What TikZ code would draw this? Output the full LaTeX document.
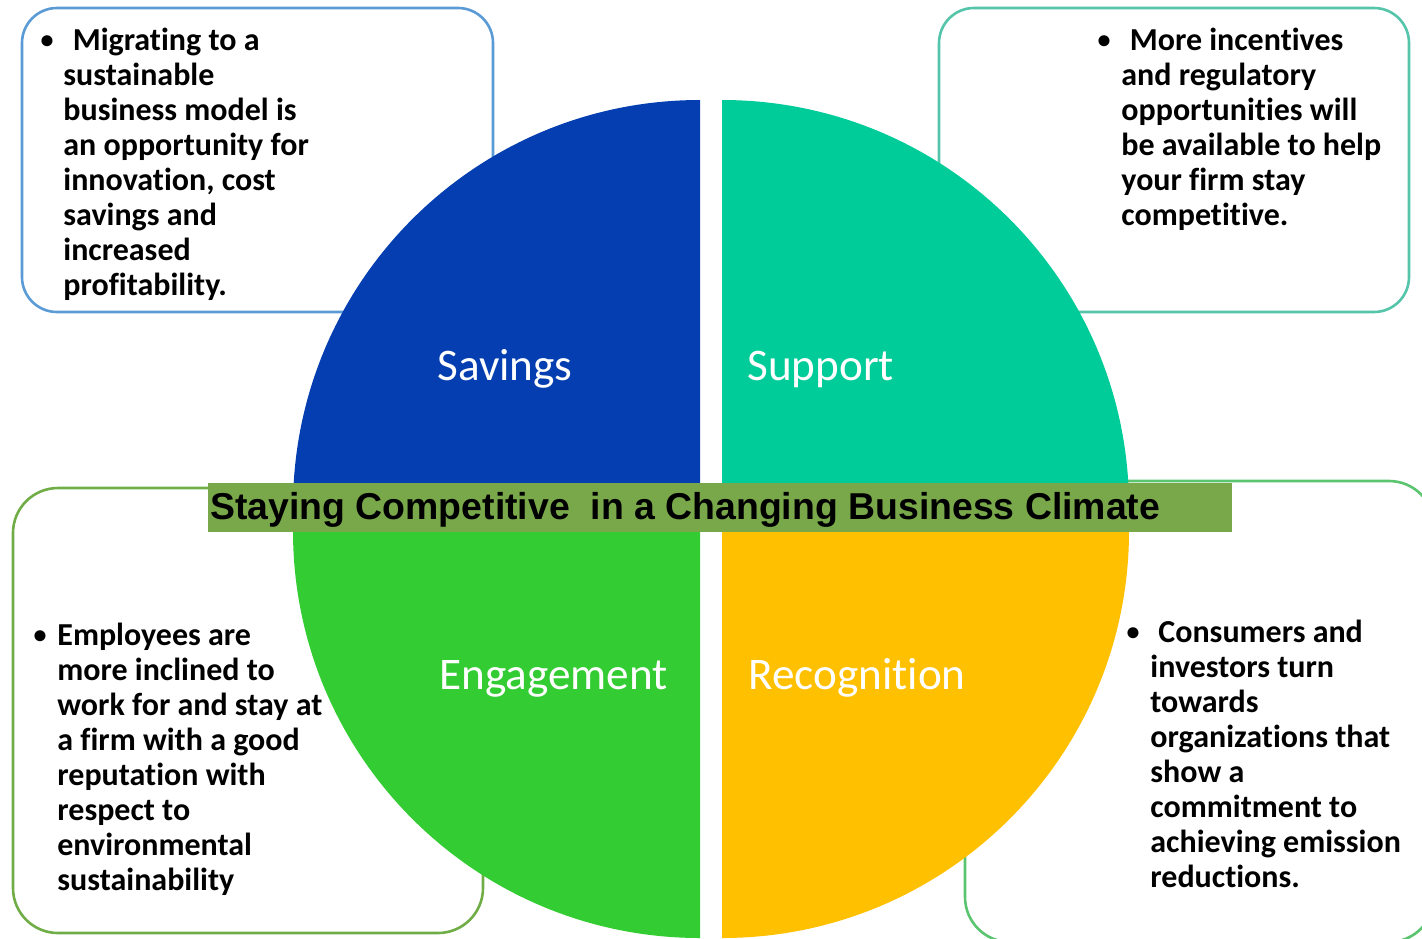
\documentclass[tikz,border=0pt]{standalone}
\usepackage{fontspec}
\setmainfont{Carlito}[RawFeature=-liga]
\newfontfamily\headfont{Liberation Sans}
\usepackage{tikz}
\definecolor{savblue}{RGB}{4,62,176}
\definecolor{supteal}{RGB}{0,204,153}
\definecolor{enggreen}{RGB}{51,204,51}
\definecolor{recamber}{RGB}{255,192,0}
\definecolor{bandgreen}{RGB}{121,168,74}
\definecolor{tlline}{RGB}{91,155,213}
\definecolor{trline}{RGB}{84,196,170}
\definecolor{blline}{RGB}{112,173,71}
\definecolor{brline}{RGB}{90,196,110}
\tikzstyle{infobox}=[line width=1.3pt,rounded corners=17.5pt]
\tikzset{seglabel/.style={
    text=white,
    inner sep=0,
    anchor=base west,
    font=\fontsize{22.6}{26}\selectfont
  }
}
\tikzset{
  bodytext/.style={
    inner sep=0,
    anchor=base west,
    align=left,
    font=\bfseries\fontsize{16}{17.5}\selectfont
  },
  dot/.style={
    inner sep=0,
    anchor=base,
    font=\bfseries\fontsize{13}{15}\selectfont
  }
}

\begin{document}
\begin{tikzpicture}[x=0.5pt,y=-0.5pt]
\useasboundingbox (0,0) rectangle (1422,938);
\clip (0,0) rectangle (1422,938);

\draw[infobox,tlline] (22,8) rectangle (493,312);
\draw[infobox,trline] (939,8) rectangle (1409,312);
\draw[infobox,blline,rounded corners=22.5pt] (13,488) rectangle (483,933);
\draw[infobox,brline,rounded corners=22.5pt] (965,481) rectangle (1434,942);

\fill[savblue] (700,507) -- (293,507) arc[start angle=180,end angle=270,radius=407] -- cycle;
\fill[supteal] (722,507) -- (722,100) arc[start angle=270,end angle=360,radius=407] -- cycle;
\fill[enggreen] (700,531) -- (293,531) arc[start angle=180,end angle=90,radius=407] -- cycle;
\fill[recamber] (722,531) -- (1129,531) arc[start angle=0,end angle=90,radius=407] -- cycle;

\node[seglabel] (sav) at (437,380) {Savings};
\node[seglabel] (sup) at (747,380) {Support};
\node[seglabel] (eng) at (439,689) {Engagement};
\node[seglabel] (rec) at (748,689) {Recognition};

\fill[bandgreen] (208,483) rectangle (1232,532);
\node[inner sep=0,anchor=base west,font=\headfont\bfseries\fontsize{18.7}{22}\selectfont] (title) at (210,519)
  {Staying Competitive~ in a Changing Business Climate};

\node[dot] (dtl) at (47,48) {\textbullet};
\node[bodytext] (ttl) at (63,295) {\hspace*{4.7pt}Migrating to a\\sustainable\\business model is\\an opportunity for\\innovation, cost\\savings and\\increased\\profitability.};

\node[dot] (dtr) at (1104,48) {\textbullet};
\node[bodytext] (ttr) at (1121,225) {\hspace*{4.2pt}More incentives\\and regulatory\\opportunities will\\be available to help\\your firm stay\\competitive.};

\node[dot] (dbl) at (40,643) {\textbullet};
\node[bodytext] (tbl) at (57,890) {Employees are\\more inclined to\\work for and stay at\\a firm with a good\\reputation with\\respect to\\environmental\\sustainability};

\node[dot] (dbr) at (1133,640) {\textbullet};
\node[bodytext] (tbr) at (1150,887) {\hspace*{4pt}Consumers and\\investors turn\\towards\\organizations that\\show a\\commitment to\\achieving emission\\reductions.};

\end{tikzpicture}
\end{document}
